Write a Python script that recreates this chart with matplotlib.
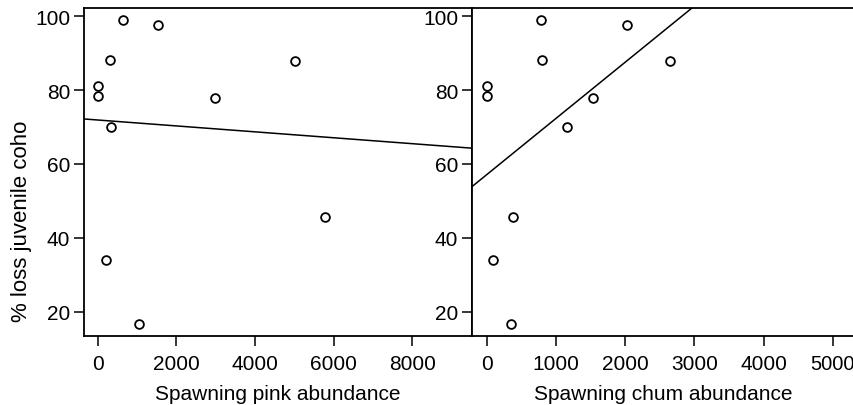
import numpy as np
import matplotlib.pyplot as plt

plt.rcParams['font.family'] = ['Liberation Sans', 'DejaVu Sans']

# % loss of juvenile coho, same sites in both panels
coho_loss = [99.1, 97.7, 88.2, 88.0, 81.0, 78.5, 77.8, 70.1, 45.7, 33.9, 16.6]
pink_abund = [652, 1527, 313, 5013, 8, 8, 2985, 331, 5793, 211, 1043]
chum_abund = [780, 2024, 794, 2643, 6, 6, 1535, 1157, 373, 87, 349]

pink_ticks = [0, 2000, 4000, 6000, 8000]
chum_ticks = [0, 1000, 2000, 3000, 4000, 5000]
y_ticks = [20, 40, 60, 80, 100]

fig = plt.figure(figsize=(8.54, 4.06), dpi=100)
ax1 = fig.add_axes([0.0984, 0.170, 0.4543, 0.8079])
ax2 = fig.add_axes([0.5527, 0.170, 0.4490, 0.8079])


def draw_panel(ax, x, y, xlim, xticks, xlabel):
    ax.plot(x, y, 'o', ms=6.3, mfc='white', mec='black', mew=1.3, ls='none', zorder=3)
    b, a = np.polyfit(x, y, 1)
    xx = np.array(xlim)
    ax.plot(xx, a + b * xx, color='black', lw=1.1)
    ax.set_xlim(xlim)
    ax.set_ylim(13.4, 102.25)
    ax.set_xticks(xticks)
    ax.set_yticks(y_ticks)
    ax.set_xlabel(xlabel, fontsize=15, labelpad=8)
    ax.tick_params(direction='out', length=7, width=1.1, labelsize=15, pad=3)
    ax.tick_params(axis='x', pad=6)
    for s in ax.spines.values():
        s.set_linewidth(1.3)


draw_panel(ax1, pink_abund, coho_loss, (-350, 9525), pink_ticks, 'Spawning pink abundance')
draw_panel(ax2, chum_abund, coho_loss, (-212, 5325), chum_ticks, 'Spawning chum abundance')
ax1.set_ylabel('% loss juvenile coho', fontsize=16)
ax1.yaxis.set_label_coords(-0.134, 0.354)
ax2.get_xticklabels()[-1].set_fontsize(14.5)

fig.savefig('out.png', dpi=100)
